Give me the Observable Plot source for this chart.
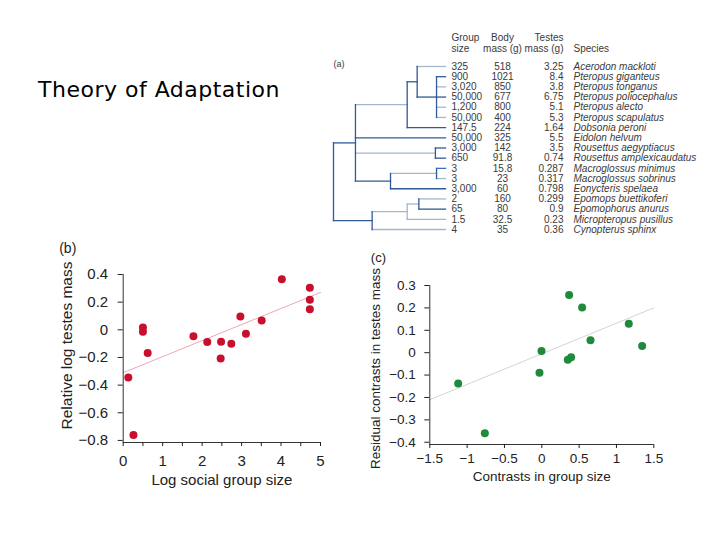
<!DOCTYPE html>
<html><head><meta charset="utf-8">
<script src="https://cdn.jsdelivr.net/npm/d3@7"></script>
<script src="https://cdn.jsdelivr.net/npm/@observablehq/plot@0.6"></script>
<style>
html,body{margin:0;padding:0;background:#fff;}
body{width:720px;height:540px;position:relative;overflow:hidden;font-family:"Liberation Sans",Arial,sans-serif;}
#title{position:absolute;left:38px;top:77px;font-family:"Comic Sans MS","DejaVu Sans",sans-serif;font-size:22px;letter-spacing:0.5px;line-height:26px;color:#000;white-space:nowrap;}
.panel{position:absolute;}
#pa{left:330px;top:25px;width:360px;height:215px;}
#pb{left:50px;top:235px;width:290px;height:260px;}
#pc{left:370px;top:245px;width:300px;height:250px;}
</style></head><body>
<div id="title">Theory of Adaptation</div>
<div id="pa" class="panel"></div>
<div id="pb" class="panel"></div>
<div id="pc" class="panel"></div>
<script>
// ---------- Panel (a): phylogeny + table ----------
const species = ["Acerodon mackloti","Pteropus giganteus","Pteropus tonganus","Pteropus poliocephalus","Pteropus alecto","Pteropus scapulatus","Dobsonia peroni","Eidolon helvum","Rousettus aegyptiacus","Rousettus amplexicaudatus","Macroglossus minimus","Macroglossus sobrinus","Eonycteris spelaea","Epomops buettikoferi","Epomophorus anurus","Micropteropus pusillus","Cynopterus sphinx"];
const groupSize = ["325","900","3,020","50,000","1,200","50,000","147.5","50,000","3,000","650","3","3","3,000","2","65","1.5","4"];
const bodyMass = ["518","1021","850","677","800","400","224","325","142","91.8","15.8","23","60","160","80","32.5","35"];
const testesMass = ["3.25","8.4","3.8","6.75","5.1","5.3","1.64","5.5","3.5","0.74","0.287","0.317","0.798","0.299","0.9","0.23","0.36"];
const leafParent = ["C","D","D","D","D","D","B","A","E","E","G","G","F","J","J","I","H"];
const leafStem = [0,1,0,1,0,0,1,1,1,1,2,0,1,0,1,0,0];
const internalIds = ["root","A","B","C","D","E","F","G","H","I","J"];
const internalParent = [null,"root","A","B","C","A","A","F","root","H","I"];
const internalDepth = [0,0.196,0.658,0.747,0.92,0.91,0.509,0.92,0.345,0.658,0.762];
const internalStem = [1,1,0,1,1,0,1,0,1,0,0];
const internalVert = [1,1,1,1,1,1,1,1,1,0,1];
const headers = ["Group\nsize","Body\nmass (g)","Testes\nmass (g)","Species"];

// ---------- Panel (b) ----------
const xB = [0.13,0.26,0.50,0.50,0.62,1.78,2.13,2.48,2.47,2.74,2.97,3.11,3.51,4.02,4.73,4.73,4.73];
const yB = [-0.345,-0.76,0.017,-0.014,-0.168,-0.046,-0.089,-0.086,-0.208,-0.10,0.096,-0.029,0.067,0.366,0.304,0.218,0.149];
const fitBx = [0,5], fitBy = [-0.31,0.27];
const xTicksB = [0,0.5,1,1.5,2,2.5,3,3.5,4,4.5,5];
const yTicksB = [-0.8,-0.6,-0.4,-0.2,0,0.2,0.4];

// ---------- Panel (c) ----------
const xC = [-1.12,-0.763,-0.031,-0.004,0.366,0.54,0.348,0.393,0.652,1.165,1.344];
const yC = [-0.138,-0.360,-0.090,0.008,0.258,0.202,-0.032,-0.020,0.056,0.129,0.030];
const fitCx = [-1.5,1.5], fitCy = [-0.21,0.20];
const xTicksC = [-1.5,-1,-0.5,0,0.5,1,1.5];
const yTicksC = [-0.4,-0.3,-0.2,-0.1,0,0.1,0.2,0.3];

const fmt = d => d === 0 ? "0" : (d < 0 ? "\u2212" : "") + String(Math.abs(d));

// ----- build tree layout -----
const nodes = new Map();
internalIds.forEach((id,i)=>nodes.set(id,{id,parent:internalParent[i],depth:internalDepth[i],stem:internalStem[i],vert:internalVert[i],children:[]}));
species.forEach((s,i)=>nodes.set(s,{id:s,parent:leafParent[i],depth:1,stem:leafStem[i],y:i,children:[]}));
for (const n of nodes.values()) if (n.parent) nodes.get(n.parent).children.push(n);
function setY(n){ if(!n.children.length) return n.y; const ys=n.children.map(setY); n.y0=d3.min(ys); n.y1=d3.max(ys); n.y=(n.y0+n.y1)/2; return n.y; }
setY(nodes.get("root"));
const segs=[];
for (const n of nodes.values()){
  if (n.parent){ const p=nodes.get(n.parent); segs.push({x1:p.depth,x2:n.depth,y1:n.y,y2:n.y,state:n.stem}); }
  if (n.children.length) segs.push({x1:n.depth,x2:n.depth,y1:n.y0,y2:n.y1,state:n.vert});
}
segs.sort((a,b)=>(a.state===0?0:1)-(b.state===0?0:1));
const rows = species.map((s,i)=>({i,s,g:groupSize[i],b:bodyMass[i],t:testesMass[i]}));
const tcol = "#3a3a3a";
const pa = Plot.plot({
  width:360,height:215,marginLeft:3,marginRight:245,marginTop:41,marginBottom:11,
  x:{domain:[0,1],axis:null},
  y:{domain:[0,16],reverse:true,axis:null},
  color:{type:"ordinal",domain:[0,1,2],range:["#a3b7d1","#2f5b98","#3d6ccc"]},
  style:{fontFamily:"Liberation Sans, Arial, sans-serif",background:"transparent",overflow:"visible"},
  marks:[
    Plot.link(segs,{x1:"x1",y1:"y1",x2:"x2",y2:"y2",stroke:"state",strokeWidth:1.3,strokeLinecap:"square"}),
    Plot.text(rows,{y:"i",frameAnchor:"right",text:"g",textAnchor:"start",dx:6,fontSize:10,fill:tcol}),
    Plot.text(rows,{y:"i",frameAnchor:"right",text:"b",textAnchor:"middle",dx:57,fontSize:10,fill:tcol}),
    Plot.text(rows,{y:"i",frameAnchor:"right",text:"t",textAnchor:"end",dx:118,fontSize:10,fill:tcol}),
    Plot.text(rows,{y:"i",frameAnchor:"right",text:"s",textAnchor:"start",dx:128,fontSize:10,fontStyle:"italic",fill:tcol}),
    Plot.text([headers[0]],{frameAnchor:"top-right",textAnchor:"start",dx:6,dy:-15,lineAnchor:"bottom",lineHeight:1.05,fontSize:10,fill:tcol}),
    Plot.text([headers[1]],{frameAnchor:"top-right",textAnchor:"middle",dx:57,dy:-15,lineAnchor:"bottom",lineHeight:1.05,fontSize:10,fill:tcol}),
    Plot.text([headers[2]],{frameAnchor:"top-right",textAnchor:"end",dx:118,dy:-15,lineAnchor:"bottom",lineHeight:1.05,fontSize:10,fill:tcol}),
    Plot.text([headers[3]],{frameAnchor:"top-right",textAnchor:"start",dx:128,dy:-15,lineAnchor:"bottom",fontSize:10,fill:tcol}),
    Plot.text(["(a)"],{frameAnchor:"top-left",textAnchor:"start",dx:0,dy:-6,fontSize:9,fill:tcol})
  ]
});
document.getElementById("pa").append(pa);

// ----- panel b -----
const ptsB = xB.map((x,i)=>({x,y:yB[i]}));
const lineB = fitBx.map((x,i)=>({x,y:fitBy[i]}));
const yMinB = -0.815;
const pb = Plot.plot({
  width:290,height:260,marginLeft:72.7,marginRight:20,marginTop:39,marginBottom:53,
  x:{domain:[0,5]}, y:{domain:[yMinB,0.4]},
  style:{fontFamily:"Liberation Sans, Arial, sans-serif",fontSize:"15px",color:"#222",background:"transparent",overflow:"visible"},
  marks:[
    Plot.line(lineB,{x:"x",y:"y",stroke:"#e7aab2",strokeWidth:1}),
    Plot.ruleX([0],{stroke:"#333",strokeWidth:1}),
    Plot.ruleY([yMinB],{stroke:"#333",strokeWidth:1}),
    Plot.axisY(yTicksB,{tickSize:5,tickPadding:10,label:null,fontSize:15,tickFormat:fmt}),
    Plot.axisX(xTicksB,{tickSize:4,tickPadding:9,label:null,fontSize:15,tickFormat:d=>Number.isInteger(d)?String(d):""}),
    Plot.dot(ptsB,{x:"x",y:"y",r:4,fill:"#c8102e",stroke:"none"}),
    Plot.text(["Log social group size"],{frameAnchor:"bottom",dy:38,lineAnchor:"middle",fontSize:15,fill:"#222"}),
    Plot.text(["Relative log testes mass"],{frameAnchor:"left",textAnchor:"middle",rotate:-90,dx:-56,dy:-13,lineAnchor:"middle",fontSize:15.5,fill:"#222"}),
    Plot.text(["(b)"],{frameAnchor:"top-left",textAnchor:"start",dx:-64,dy:-26,lineAnchor:"middle",fontSize:14,fill:"#222"})
  ]
});
document.getElementById("pb").append(pb);

// ----- panel c -----
const ptsC = xC.map((x,i)=>({x,y:yC[i]}));
const lineC = fitCx.map((x,i)=>({x,y:fitCy[i]}));
const yMinC = -0.41;
const pc = Plot.plot({
  width:300,height:250,marginLeft:59.3,marginRight:16.7,marginTop:40,marginBottom:51,
  x:{domain:[-1.5,1.5]}, y:{domain:[yMinC,0.3]},
  style:{fontFamily:"Liberation Sans, Arial, sans-serif",fontSize:"13.5px",color:"#222",background:"transparent",overflow:"visible"},
  marks:[
    Plot.line(lineC,{x:"x",y:"y",stroke:"#d4d4d4",strokeWidth:1}),
    Plot.ruleX([-1.5],{stroke:"#333",strokeWidth:1}),
    Plot.ruleY([yMinC],{stroke:"#333",strokeWidth:1}),
    Plot.axisY(yTicksC,{tickSize:5,tickPadding:9,label:null,fontSize:13.5,tickFormat:fmt}),
    Plot.axisX(xTicksC,{tickSize:4,tickPadding:5,label:null,fontSize:13.5,tickFormat:fmt}),
    Plot.dot(ptsC,{x:"x",y:"y",r:4,fill:"#1f8a3b",stroke:"none"}),
    Plot.text(["Contrasts in group size"],{frameAnchor:"bottom",dy:32,lineAnchor:"middle",fontSize:13.5,fill:"#222"}),
    Plot.text(["Residual contrasts in testes mass"],{frameAnchor:"left",textAnchor:"middle",rotate:-90,dx:-54,dy:3.5,lineAnchor:"middle",fontSize:13.5,fill:"#222"}),
    Plot.text(["(c)"],{frameAnchor:"top-left",textAnchor:"start",dx:-59,dy:-28,lineAnchor:"middle",fontSize:13,fill:"#222"})
  ]
});
document.getElementById("pc").append(pc);
</script>
</body></html>
